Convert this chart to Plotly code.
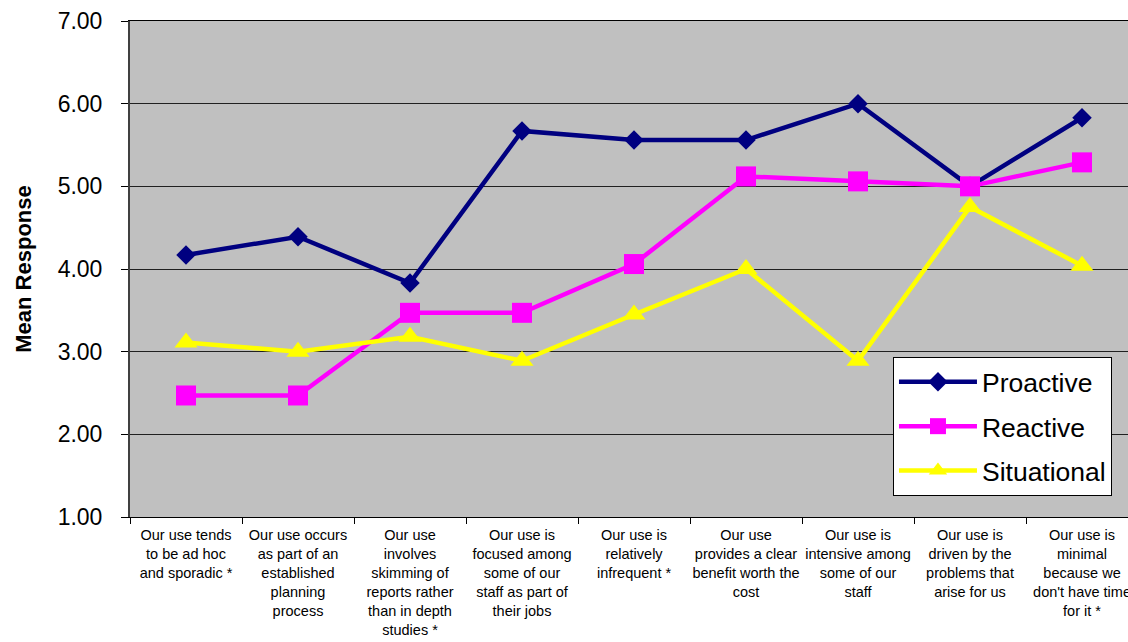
import plotly.graph_objects as go

# Survey statements (x categories)
categories = [
    "Our use tends<br>to be ad hoc<br>and sporadic *",
    "Our use occurs<br>as part of an<br>established<br>planning<br>process",
    "Our use<br>involves<br>skimming of<br>reports rather<br>than in depth<br>studies *",
    "Our use is<br>focused among<br>some of our<br>staff as part of<br>their jobs",
    "Our use is<br>relatively<br>infrequent *",
    "Our use<br>provides a clear<br>benefit worth the<br>cost",
    "Our use is<br>intensive among<br>some of our<br>staff",
    "Our use is<br>driven by the<br>problems that<br>arise for us",
    "Our use is<br>minimal<br>because we<br>don't have time<br>for it *",
]

# Mean responses per group
proactive = [4.17, 4.39, 3.83, 5.67, 5.56, 5.56, 6.00, 5.00, 5.83]
reactive = [2.47, 2.47, 3.47, 3.47, 4.06, 5.12, 5.06, 5.00, 5.29]
situational = [3.11, 3.00, 3.18, 2.89, 3.45, 4.00, 2.89, 4.75, 4.04]

y_ticks = [1, 2, 3, 4, 5, 6, 7]

series = [
    ("Proactive", proactive, "#000080", "diamond", 15),
    ("Reactive", reactive, "#FF00FF", "square", 20),
    ("Situational", situational, "#FFFF00", "triangle-up", 20),
]

fig = go.Figure()
for name, vals, color, symbol, size in series:
    fig.add_trace(go.Scatter(
        x=categories, y=vals, name=name, legendgroup=name,
        mode="lines+markers",
        line=dict(color=color, width=4.5),
        marker=dict(color=color, symbol=symbol, size=size, line=dict(width=0)),
    ))

font_family = "Liberation Sans, Arial, sans-serif"

fig.update_layout(
    width=1128, height=642,
    margin=dict(l=130, r=0, t=21, b=125, autoexpand=False),
    paper_bgcolor="white",
    plot_bgcolor="#C0C0C0",
    font=dict(family=font_family, color="black"),
    showlegend=True,
    legend=dict(
        x=0.7645, y=0.3226, xanchor="left", yanchor="top",
        bgcolor="white", bordercolor="black", borderwidth=1,
        font=dict(size=26.5, family=font_family, color="black"),
        itemwidth=78, tracegroupgap=7,
    ),
    xaxis=dict(
        type="category",
        range=[-0.5, 8.5 - 10 / 112],
        tickson="boundaries", ticks="outside", ticklen=6, tickcolor="black",
        showline=True, linecolor="black", linewidth=1, mirror=True,
        showgrid=False, zeroline=False,
        tickfont=dict(size=14.5, family=font_family, color="black"),
        tickangle=0, ticklabelstandoff=5,
    ),
    yaxis=dict(
        range=[1, 7], tickvals=y_ticks, tickformat=".2f",
        ticks="outside", ticklen=7, tickcolor="black",
        showline=True, linecolor="#404040", linewidth=2,
        showgrid=True, gridcolor="#202020", gridwidth=1,
        zeroline=False, ticklabelstandoff=14,
        tickfont=dict(size=23, family=font_family, color="black"),
        title=dict(text="<b>Mean Response</b>", standoff=20,
                   font=dict(size=22, family=font_family, color="black")),
    ),
)

fig.write_html("out.html")
